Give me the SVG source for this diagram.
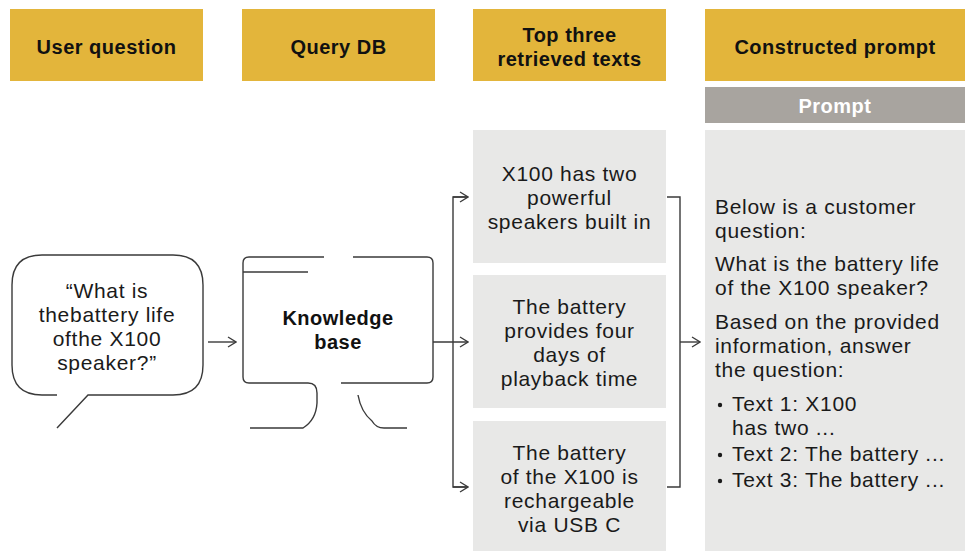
<svg xmlns="http://www.w3.org/2000/svg" width="972" height="551" viewBox="0 0 972 551">
  <defs>
    <style>
      .hdr { fill: #E3B53B; }
      .hdr-t { font-family: "Liberation Sans", Arial, sans-serif; font-weight: bold; font-size: 20px; letter-spacing: 0.5px; fill: #111; text-anchor: middle; }
      .card { fill: #E8E8E7; }
      .body { font-family: "Liberation Sans", Arial, sans-serif; font-size: 21px; letter-spacing: 0.7px; fill: #1a1a1a; }
      .mid { text-anchor: middle; }
      .ln { fill: none; stroke: #3a3a3a; stroke-width: 1.4; }
    </style>
    <marker id="chev" viewBox="0 0 12 12" refX="11" refY="6" markerWidth="12" markerHeight="12" markerUnits="userSpaceOnUse" orient="auto">
      <path d="M3 1 L11 6 L3 11" fill="none" stroke="#3a3a3a" stroke-width="1.3"/>
    </marker>
  </defs>
  <rect width="972" height="551" fill="#fff"/>

  <!-- column headers -->
  <g id="hdr-user">
    <rect class="hdr" x="10" y="9" width="193" height="72"/>
    <text class="hdr-t" x="106.5" y="54">User question</text>
  </g>
  <g id="hdr-query">
    <rect class="hdr" x="242" y="9" width="193" height="72"/>
    <text class="hdr-t" x="338.5" y="54">Query DB</text>
  </g>
  <g id="hdr-top">
    <rect class="hdr" x="473" y="9" width="193" height="72"/>
    <text class="hdr-t" x="569.5" y="42">Top three</text>
    <text class="hdr-t" x="569.5" y="66">retrieved texts</text>
  </g>
  <g id="hdr-prompt">
    <rect class="hdr" x="705" y="9" width="260" height="72"/>
    <text class="hdr-t" x="835" y="54">Constructed prompt</text>
  </g>

  <!-- user question bubble -->
  <g id="bubble">
    <path class="ln" d="M57 395 L42 395 Q12 395 12 365 L12 285 Q12 255 42 255 L173 255 Q203 255 203 285 L203 365 Q203 395 173 395 L88 395 L57 428"/>
    <text class="body mid" x="107" y="298">“What is</text>
    <text class="body mid" x="107" y="322">thebattery life</text>
    <text class="body mid" x="107" y="346">ofthe X100</text>
    <text class="body mid" x="107" y="370">speaker?”</text>
  </g>

  <!-- knowledge base monitor -->
  <g id="kb">
    <path class="ln" d="M324 257 L249 257 Q243 257 243 263 L243 377 Q243 383 249 383 L308 383 Q317 383 317 393 L317 403 Q316 420 303 428 L250 428"/>
    <path class="ln" d="M353 257 L427 257 Q433 257 433 263 L433 377 Q433 383 427 383 L341 383"/>
    <path class="ln" d="M243 272 L308 272"/>
    <path class="ln" d="M358 395 Q361 412 372 421 Q376 428 384 428 L407 428"/>
    <text class="hdr-t" x="338" y="325">Knowledge</text>
    <text class="hdr-t" x="338" y="349">base</text>
  </g>

  <!-- retrieved texts -->
  <g id="text1">
    <rect class="card" x="473" y="130" width="193" height="133"/>
    <text class="body mid" x="569.5" y="181">X100 has two</text>
    <text class="body mid" x="569.5" y="205">powerful</text>
    <text class="body mid" x="569.5" y="229">speakers built in</text>
  </g>
  <g id="text2">
    <rect class="card" x="473" y="275" width="193" height="133"/>
    <text class="body mid" x="569.5" y="314">The battery</text>
    <text class="body mid" x="569.5" y="338">provides four</text>
    <text class="body mid" x="569.5" y="362">days of</text>
    <text class="body mid" x="569.5" y="386">playback time</text>
  </g>
  <g id="text3">
    <rect class="card" x="473" y="421" width="193" height="130"/>
    <text class="body mid" x="569.5" y="460">The battery</text>
    <text class="body mid" x="569.5" y="484">of the X100 is</text>
    <text class="body mid" x="569.5" y="508">rechargeable</text>
    <text class="body mid" x="569.5" y="532">via USB C</text>
  </g>

  <!-- constructed prompt -->
  <g id="prompt">
    <rect x="705" y="87" width="260" height="36" fill="#A8A49F"/>
    <text class="hdr-t" x="835" y="113" style="fill:#fff">Prompt</text>
    <rect class="card" x="705" y="130" width="260" height="421"/>
    <text class="body" x="715" y="214">Below is a customer</text>
    <text class="body" x="715" y="238">question:</text>
    <text class="body" x="715" y="271">What is the battery life</text>
    <text class="body" x="715" y="295">of the X100 speaker?</text>
    <text class="body" x="715" y="329">Based on the provided</text>
    <text class="body" x="715" y="353">information, answer</text>
    <text class="body" x="715" y="377">the question:</text>
    <circle cx="720" cy="405" r="2.2" fill="#1a1a1a"/>
    <text class="body" x="732" y="411">Text 1: X100</text>
    <text class="body" x="732" y="435">has two ...</text>
    <circle cx="720" cy="455" r="2.2" fill="#1a1a1a"/>
    <text class="body" x="732" y="461">Text 2: The battery ...</text>
    <circle cx="720" cy="481" r="2.2" fill="#1a1a1a"/>
    <text class="body" x="732" y="487">Text 3: The battery ...</text>
  </g>

  <!-- connectors -->
  <g id="connectors">
    <path class="ln" d="M208 342 L236 342" marker-end="url(#chev)"/>
    <path class="ln" d="M433 342 L468 342" marker-end="url(#chev)"/>
    <path class="ln" d="M468 197 L453 197 L453 487 L468 487"/>
    <path class="ln" d="M453 197 L468 197" marker-end="url(#chev)"/>
    <path class="ln" d="M453 487 L468 487" marker-end="url(#chev)"/>
    <path class="ln" d="M667 197 L680 197 L680 487 L667 487"/>
    <path class="ln" d="M680 342 L700 342" marker-end="url(#chev)"/>
  </g>
</svg>
